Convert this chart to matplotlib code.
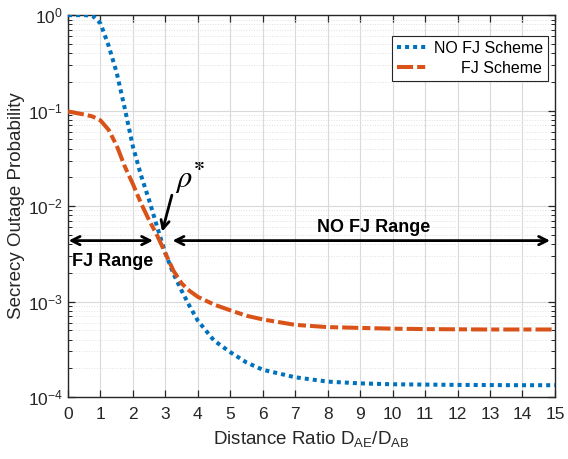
import numpy as np
import matplotlib
matplotlib.use('Agg')
import matplotlib.pyplot as plt
from matplotlib.ticker import LogLocator, FixedLocator, NullFormatter

plt.rcParams['font.family'] = ['Liberation Sans', 'DejaVu Sans']
plt.rcParams['mathtext.fontset'] = 'custom'
plt.rcParams['mathtext.rm'] = 'Liberation Sans'
plt.rcParams['mathtext.it'] = 'Liberation Sans:italic'
plt.rcParams['mathtext.bf'] = 'Liberation Sans:bold'

# distance ratio D_AE / D_AB
ratio = [0, 0.5, 0.75, 1.0, 1.25, 1.5, 1.75, 2.0, 2.25, 2.5, 2.75, 3.0, 3.25, 3.5,
         3.75, 4.0, 4.5, 5, 5.5, 6, 7, 8, 9, 10, 11, 12, 13, 14, 15]

# secrecy outage probability without friendly jamming
sop_no_fj = [1.0, 1.0, 0.99, 0.82, 0.48, 0.25, 0.105, 0.042, 0.021, 0.0115, 0.006,
             0.0032, 0.00195, 0.0013, 0.00089, 0.00063, 0.00039, 0.000295, 0.00023,
             0.000193, 0.000161, 0.000145, 0.000139, 0.000136, 0.000135, 0.000134,
             0.0001335, 0.000133, 0.000133]

# secrecy outage probability with friendly jamming
sop_fj = [0.098, 0.091, 0.087, 0.079, 0.063, 0.043, 0.026, 0.017, 0.0107, 0.0071,
          0.0049, 0.0032, 0.0021, 0.00155, 0.00129, 0.00112, 0.00093, 0.00081,
          0.00071, 0.00065, 0.00057, 0.00054, 0.00053, 0.00052, 0.000515,
          0.000512, 0.00051, 0.00051, 0.00051]

labels = ['NO FJ Scheme', '      FJ Scheme']

fig = plt.figure(figsize=(5.68, 4.59), dpi=100)
ax = fig.add_axes([0.1197, 0.135, 0.8573, 0.832])

ax.semilogy(ratio, sop_no_fj, color='#0072BD', lw=2.9, linestyle=(0, (1, 1)),
            label=labels[0], zorder=3)
ax.semilogy(ratio, sop_fj, color='#D95319', lw=2.9, linestyle=(0, (4, 1, 2, 1)),
            label=labels[1], zorder=3)

ax.set_xlim(0, 15)
ax.set_ylim(1e-4, 1)
ax.xaxis.set_major_locator(FixedLocator(range(0, 16)))
ax.yaxis.set_major_locator(LogLocator(base=10, numticks=10))
ax.yaxis.set_minor_locator(LogLocator(base=10, subs=np.arange(2, 10), numticks=20))
ax.yaxis.set_minor_formatter(NullFormatter())

ax.grid(True, which='major', color='#d9d9d9', lw=0.8, linestyle='-')
ax.grid(True, which='minor', axis='y', color='#e0e0e0', lw=0.7, linestyle=':')
ax.set_axisbelow(True)

ax.tick_params(which='both', direction='in', top=True, right=True, colors='#262626',
               labelsize=12.5)
ax.tick_params(which='major', length=5, width=0.9)
ax.tick_params(which='minor', length=3, width=0.7)
ax.tick_params(axis='x', pad=7)
for sp in ax.spines.values():
    sp.set_color('#262626')
    sp.set_linewidth(1.0)

ax.set_xlabel(r'Distance Ratio D$_{\mathrm{AE}}$/D$_{\mathrm{AB}}$', fontsize=13.5,
              color='#262626', labelpad=5)
ax.set_ylabel('Secrecy Outage Probability', fontsize=13.5, color='#262626', labelpad=2)

# range arrows
arrow_kw = dict(arrowstyle='<->,head_length=0.6,head_width=0.3', lw=2, color='black',
                shrinkA=0, shrinkB=0)
ax.annotate('', xy=(0.02, 4.35e-3), xytext=(2.62, 4.35e-3), arrowprops=arrow_kw)
ax.annotate('', xy=(3.22, 4.35e-3), xytext=(14.85, 4.35e-3), arrowprops=arrow_kw)
ax.text(0.12, 2.6e-3, 'FJ Range', fontsize=13, fontweight='bold', va='center', ha='left')
ax.text(9.42, 6.0e-3, 'NO FJ Range', fontsize=13, fontweight='bold', va='center',
        ha='center')

# crossing point marker
ax.annotate('', xy=(2.9, 5.4e-3), xytext=(3.2, 1.3e-2),
            arrowprops=dict(arrowstyle='->,head_length=0.6,head_width=0.3', lw=2,
                            color='black', shrinkA=0, shrinkB=0))
ax.text(3.3, 1.55e-2, r'$\rho^{\mathbf{*}}$', fontsize=22, math_fontfamily='stix',
        ha='left', va='baseline')

leg = ax.legend(loc='upper right', bbox_to_anchor=(0.985, 0.945), fontsize=11.5,
                fancybox=False, framealpha=1, edgecolor='#262626', handlelength=2.0,
                handletextpad=0.3, borderpad=0.3, labelspacing=0.3, borderaxespad=0)
leg.get_frame().set_linewidth(0.8)

fig.savefig('out.png', dpi=100)
